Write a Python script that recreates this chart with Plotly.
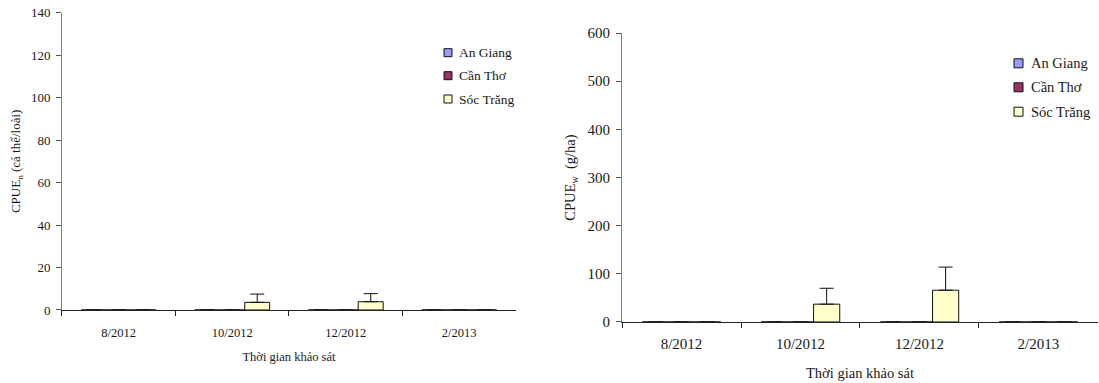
import plotly.graph_objects as go

categories = ["8/2012", "10/2012", "12/2012", "2/2013"]
series_names = ["An Giang", "Cần Thơ", "Sóc Trăng"]
colors = ["#9999FF", "#993366", "#FFFFCC"]

# Left chart: CPUE_n (cá thể/loài)
cpue_n = {
    "An Giang": [0, 0, 0, 0],
    "Cần Thơ": [0, 0, 0, 0],
    "Sóc Trăng": [0, 3.6, 3.9, 0],
}
cpue_n_err = {
    "An Giang": [0, 0, 0, 0],
    "Cần Thơ": [0, 0, 0, 0],
    "Sóc Trăng": [0, 3.9, 3.8, 0],
}

# Right chart: CPUE_w (g/ha)
cpue_w = {
    "An Giang": [0, 0, 0, 0],
    "Cần Thơ": [0, 0, 0, 0],
    "Sóc Trăng": [0, 37, 66, 0],
}
cpue_w_err = {
    "An Giang": [0, 0, 0, 0],
    "Cần Thơ": [0, 0, 0, 0],
    "Sóc Trăng": [0, 33, 48, 0],
}

FONT = "Liberation Serif, Times New Roman, serif"
TXT = "#1a1a1a"
W, H = 1099, 383

fig = go.Figure()

for name, col in zip(series_names, colors):
    fig.add_trace(go.Bar(
        x=categories, y=cpue_n[name], name=name, showlegend=False,
        marker=dict(color=col, line=dict(color="#111111", width=1)),
        error_y=dict(type="data", symmetric=False, array=cpue_n_err[name],
                     arrayminus=[0] * len(categories), color="#111111",
                     thickness=1, width=7, visible=True),
        xaxis="x", yaxis="y",
    ))
for name, col in zip(series_names, colors):
    fig.add_trace(go.Bar(
        x=categories, y=cpue_w[name], name=name, showlegend=False,
        marker=dict(color=col, line=dict(color="#111111", width=1)),
        error_y=dict(type="data", symmetric=False, array=cpue_w_err[name],
                     arrayminus=[0] * len(categories), color="#111111",
                     thickness=1, width=7, visible=True),
        xaxis="x2", yaxis="y2",
    ))

common_x = dict(type="category", showline=True, linecolor="#222222", linewidth=1,
                ticks="outside", tickson="boundaries", ticklen=5, tickcolor="#222222",
                showgrid=False, zeroline=False, automargin=False)
common_y = dict(showline=True, linecolor="#808080", linewidth=1, ticks="outside",
                ticklen=5, tickcolor="#555555", showgrid=False, zeroline=False,
                ticklabelstandoff=3, automargin=False)

fig.update_layout(
    width=W, height=H,
    margin=dict(l=0, r=0, t=0, b=0),
    paper_bgcolor="white", plot_bgcolor="white",
    font=dict(family=FONT, color=TXT),
    barmode="group", bargap=0.34, bargroupgap=0,
    showlegend=False,
    xaxis=dict(domain=[0.0564, 0.4695], anchor="y",
               tickfont=dict(size=12.5, family=FONT, color=TXT), ticklabelstandoff=11,
               title=dict(text="Thời gian khảo sát", font=dict(size=12.5, family=FONT, color=TXT), standoff=13),
               **common_x),
    yaxis=dict(domain=[0.1906, 0.9668], anchor="x", range=[0, 140], dtick=20,
               tickfont=dict(size=13, family=FONT, color=TXT),
               title=dict(text="CPUE<sub>n</sub> (cá thể/loài)", font=dict(size=13, family=FONT, color=TXT), standoff=7),
               **common_y),
    xaxis2=dict(domain=[0.566, 0.999], anchor="y2",
                tickfont=dict(size=15, family=FONT, color=TXT), ticklabelstandoff=8,
                title=dict(text="Thời gian khảo sát", font=dict(size=14.5, family=FONT, color=TXT), standoff=16),
                **common_x),
    yaxis2=dict(domain=[0.1593, 0.9138], anchor="x2", range=[0, 600], dtick=100,
                tickfont=dict(size=15, family=FONT, color=TXT),
                title=dict(text="CPUE<sub>w</sub>  (g/ha)", font=dict(size=14.5, family=FONT, color=TXT), standoff=8),
                **common_y),
)

# Legends (drawn as key boxes + labels, positioned in pixel terms)
legend_specs = [
    # (box center x px, box size px, text x px, row y px list, font size)
    (448, 8, 457, [52.7, 75.7, 99.0], 13.5),
    (1018.5, 9, 1029, [63.3, 87.3, 111.7], 14.5),
]
for cx, sz, tx, rows, fs in legend_specs:
    for name, col, ry in zip(series_names, colors, rows):
        fig.add_shape(type="rect", xref="paper", yref="paper",
                      x0=(cx - sz / 2) / W, x1=(cx + sz / 2) / W,
                      y0=1 - (ry + sz / 2) / H, y1=1 - (ry - sz / 2) / H,
                      fillcolor=col, line=dict(color="#111111", width=1))
        fig.add_annotation(xref="paper", yref="paper", x=tx / W, y=1 - ry / H,
                           xanchor="left", yanchor="middle", showarrow=False,
                           text=name, font=dict(size=fs, family=FONT, color=TXT))

fig.write_html("out.html", config={"displayModeBar": False},
               post_script="document.body.style.margin='0px';")
